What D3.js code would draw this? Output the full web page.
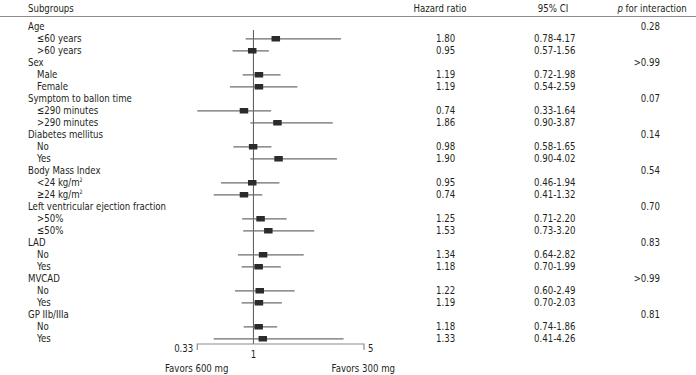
<!DOCTYPE html>
<html>
<head>
<meta charset="utf-8">
<script src="https://cdn.jsdelivr.net/npm/d3@7"></script>
<style>
  body { margin: 0; background: #fff; }
  svg text { font-family: "DejaVu Sans Condensed", "Liberation Sans", sans-serif; font-size: 11px; fill: #231f20; }
</style>
</head>
<body>
<svg id="chart" width="696" height="375"></svg>
<script>
/* -------------------------------------------------------------------------- */
const groups = ['Age', 'Sex', 'Symptom to ballon time', 'Diabetes mellitus', 'Body Mass Index',
  'Left ventricular ejection fraction', 'LAD', 'MVCAD', 'GP IIb/IIIa'];
const pInteraction = ['0.28', '>0.99', '0.07', '0.14', '0.54', '0.70', '0.83', '>0.99', '0.81'];
const subgroups = [
  ['\u226460 years', '>60 years'],
  ['Male', 'Female'],
  ['\u2264290 minutes', '>290 minutes'],
  ['No', 'Yes'],
  ['<24 kg/m\u00b2', '\u226524 kg/m\u00b2'],
  ['>50%', '\u226450%'],
  ['No', 'Yes'],
  ['No', 'Yes'],
  ['No', 'Yes']
];
const hazardRatio = [1.80, 0.95, 1.19, 1.19, 0.74, 1.86, 0.98, 1.90, 0.95, 0.74, 1.25, 1.53, 1.34, 1.18, 1.22, 1.19, 1.18, 1.33];
const ciLow  = [0.78, 0.57, 0.72, 0.54, 0.33, 0.90, 0.58, 0.90, 0.46, 0.41, 0.71, 0.73, 0.64, 0.70, 0.60, 0.70, 0.74, 0.41];
const ciHigh = [4.17, 1.56, 1.98, 2.59, 1.64, 3.87, 1.65, 4.02, 1.94, 1.32, 2.20, 3.20, 2.82, 1.99, 2.49, 2.03, 1.86, 4.26];
const axisTicks = [0.33, 1, 5];
const axisLabels = ['0.33', '1', '5'];
const headers = ['Subgroups', 'Hazard ratio', '95% CI', 'p for interaction'];
const favors = ['Favors 600 mg', 'Favors 300 mg'];

/* -------------------------------------------------------------------------- */
// flatten into rows: group header followed by its subgroups
let rows = [];
let k = 0;
groups.forEach((g, i) => {
  rows.push({ label: g, group: true, p: pInteraction[i] });
  subgroups[i].forEach(s => {
    rows.push({ label: s, group: false, hr: hazardRatio[k], lo: ciLow[k], hi: ciHigh[k] });
    k++;
  });
});

// ratios below 1 are drawn as their reciprocal, mirrored around 1
const t = v => v >= 1 ? v - 1 : 1 - 1 / v;
const xs = d3.scaleLinear().domain([t(0.33), t(5)]).range([197.3, 364]);
const x = v => xs(t(v));
const y = d3.scaleLinear().domain([0, rows.length - 1]).range([25.8, 337.8]);

const svg = d3.select('#chart');

// condensed text: squeeze horizontally around its anchor point
function label(parent, px, py, anchor) {
  return parent.append('g')
    .attr('transform', `translate(${px},${py}) scale(0.87,1)`)
    .append('text')
    .attr('text-anchor', anchor || 'start');
}

/* -------------------------------------------------------------------------- */
// header
svg.append('line')
  .attr('x1', 0).attr('x2', 696).attr('y1', 16.5).attr('y2', 16.5)
  .attr('stroke', '#8c8c8c').attr('stroke-width', 1.2);

const hx = [28, 440, 553, 652];
const ha = ['start', 'middle', 'middle', 'middle'];
headers.forEach((h, i) => {
  let tx = label(svg, hx[i], 12, ha[i]);
  if (i == 3) {
    tx.append('tspan').attr('font-style', 'italic').text('p');
    tx.append('tspan').text(' for interaction');
  } else {
    tx.text(h);
  }
});

/* -------------------------------------------------------------------------- */
// reference line at 1
svg.append('line')
  .attr('x1', x(1)).attr('x2', x(1)).attr('y1', 30).attr('y2', 344)
  .attr('stroke', '#555').attr('stroke-width', 1);

// rows
let r = svg.selectAll('g.row').data(rows).enter()
  .append('g').attr('class', 'row')
  .attr('transform', (d, i) => `translate(0,${y(i)})`);

r.each(function(d) {
  let g = d3.select(this);
  let lt = label(g, d.group ? 28 : 37, 0).attr('dy', '0.35em');
  if (d.label.endsWith('\u00b2')) {
    lt.append('tspan').text(d.label.slice(0, -1));
    lt.append('tspan').attr('dy', -4).attr('font-size', '6px').text('2');
  } else {
    lt.text(d.label);
  }

  if (d.group) {
    label(g, 660, 0, 'end').attr('dy', '0.35em').text(d.p);
    return;
  }

  g.append('line')
    .attr('x1', x(d.lo)).attr('x2', x(d.hi)).attr('y1', 1).attr('y2', 1)
    .attr('stroke', '#6d6d6d').attr('stroke-width', 1.3);
  g.append('rect')
    .attr('x', x(d.hr) - 4).attr('y', -1.8).attr('width', 8.5).attr('height', 5.5)
    .attr('fill', '#2b2b2b');

  label(g, 436, 0).attr('dy', '0.35em').text(d.hr.toFixed(2));
  label(g, 534, 0).attr('dy', '0.35em').text(d.lo.toFixed(2) + '-' + d.hi.toFixed(2));
});

/* -------------------------------------------------------------------------- */
// axis
let ax = svg.append('g').attr('class', 'axis');
ax.append('path')
  .attr('d', `M${x(0.33)},350V344H${x(5)}V350`)
  .attr('fill', 'none').attr('stroke', '#8c8c8c').attr('stroke-width', 1.2);

axisTicks.forEach((v, i) => {
  let tx;
  if (i == 0) tx = label(ax, x(v) - 4, 348, 'end');
  else if (i == 2) tx = label(ax, x(v) + 4, 348);
  else tx = label(ax, x(v), 354.5, 'middle');
  tx.attr('dy', '0.35em').text(axisLabels[i]);
});

label(svg, 165, 371.5).text(favors[0]);
label(svg, 395, 371.5, 'end').text(favors[1]);
</script>
</body>
</html>
